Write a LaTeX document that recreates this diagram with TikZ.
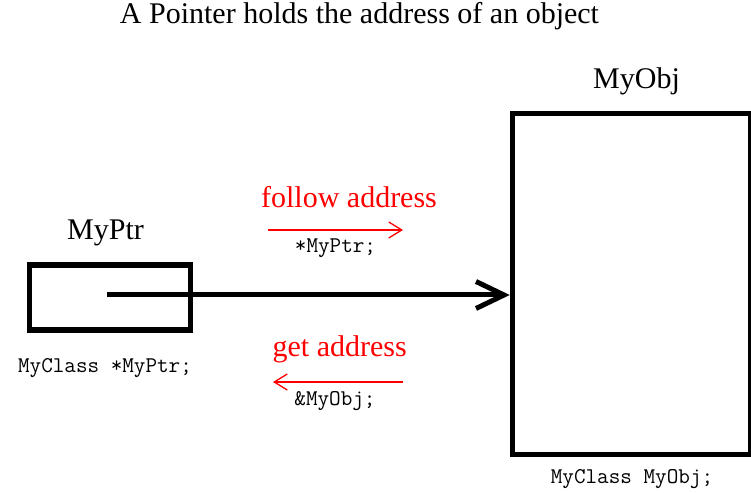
\documentclass[tikz,border=0pt]{standalone}
\usepackage{fontspec}
\setmainfont{Liberation Serif}
\usetikzlibrary{arrows.meta}

\tikzset{
  label30/.style={anchor=base, inner sep=0pt, font=\fontsize{30}{36}\selectfont},
  redlabel/.style={label30, text=red},
  code/.style={anchor=base, inner sep=0pt, font=\ttfamily\fontsize{22.5}{26}\selectfont},
  memory/.style={draw, line width=5.5pt, inner sep=0pt},
  pointsto/.style={line width=5pt, -{Straight Barb[length=28pt,width=27pt,line width=5pt]}},
  opnote/.style={red, line width=1.3pt, -{Straight Barb[length=13pt,width=16pt,line width=1.3pt]}}
}

\begin{document}
\begin{tikzpicture}[x=1pt,y=1pt]
  \useasboundingbox[fill=white] (0,0) rectangle (751,492);

  % heading
  \node[label30] (title) at (359.5,468) {A Pointer holds the address of an object};

  % the pointer variable and the object it refers to
  \node[memory, minimum width=161pt, minimum height=65pt] (ptr) at (110,194.5) {};
  \node[memory, minimum width=238.5pt, minimum height=341pt] (obj) at (631.75,207.8) {};

  \node[label30] (ptrname) at (105.5,252) {MyPtr};
  \node[label30] (objname) at (636.5,403) {MyObj};
  \node[code] (ptrdecl) at (105,119.3) {MyClass *MyPtr;};
  \node[code] (objdecl) at (632,9) {MyClass MyObj;};

  % the stored address
  \coordinate (ptrval) at ([shift={(-3pt,2.5pt)}]ptr.center);
  \draw[pointsto] (ptrval) -- (ptrval -| obj.west);

  % dereference
  \node[redlabel] (follow) at (349,284) {follow address};
  \coordinate (followA) at (268,262);
  \coordinate (followB) at (403,262);
  \draw[opnote] (followA) -- (followB);
  \node[code] (deref) at (335.5,239.3) {*MyPtr;};

  % address-of
  \node[redlabel] (getaddr) at (339.7,135.3) {get address};
  \coordinate (getA) at (403,110);
  \coordinate (getB) at (273,110);
  \draw[opnote] (getA) -- (getB);
  \node[code] (addrof) at (335,86) {\&MyObj;};
\end{tikzpicture}
\end{document}
